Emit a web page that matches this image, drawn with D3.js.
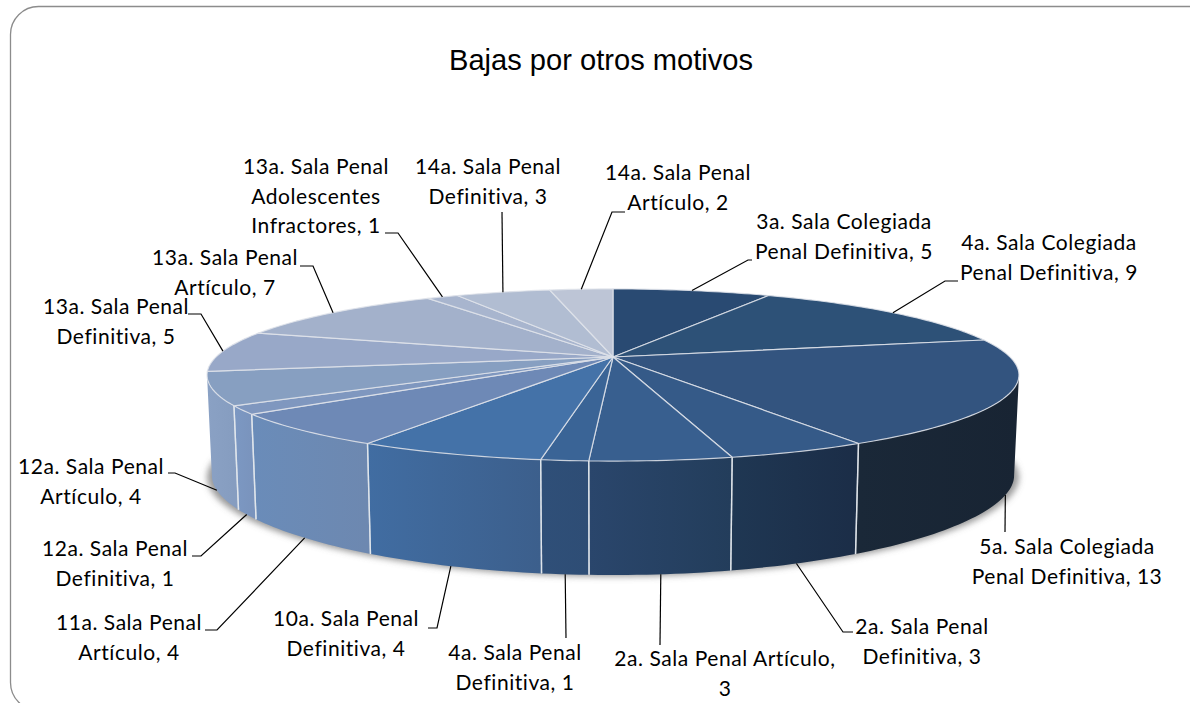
<!DOCTYPE html>
<html><head><meta charset="utf-8">
<script src="https://cdnjs.cloudflare.com/ajax/libs/d3/7.8.5/d3.min.js"></script>
<style>html,body{margin:0;padding:0;background:#fff;overflow:hidden}svg{display:block}</style>
</head><body><svg id="c" width="1190" height="703"></svg>
<script>
const title = "Bajas por otros motivos";
const labels = [
 ["3a. Sala Colegiada","Penal Definitiva, 5"],
 ["4a. Sala Colegiada","Penal Definitiva, 9"],
 ["5a. Sala Colegiada","Penal Definitiva, 13"],
 ["2a. Sala Penal","Definitiva, 3"],
 ["2a. Sala Penal Artículo,","3"],
 ["4a. Sala Penal","Definitiva, 1"],
 ["10a. Sala Penal","Definitiva, 4"],
 ["11a. Sala Penal","Artículo, 4"],
 ["12a. Sala Penal","Definitiva, 1"],
 ["12a. Sala Penal","Artículo, 4"],
 ["13a. Sala Penal","Definitiva, 5"],
 ["13a. Sala Penal","Artículo, 7"],
 ["13a. Sala Penal","Adolescentes","Infractores, 1"],
 ["14a. Sala Penal","Definitiva, 3"],
 ["14a. Sala Penal","Artículo, 2"]
];
const values = [5,9,13,3,3,1,4,4,1,4,5,7,1,3,2];
const topColors = ["#294a72","#2d5177","#33547f","#355a88","#385f8f","#3a6496","#4472a8","#6e89b6","#7f97bf","#879fc1","#98a8c8","#a3b1cb","#a8b5ce","#b1bdd2","#bdc5d6"];
const wallLeft  = ["#294a72","#2d5177","#1a2838","#1f3753","#2a466c","#2f4f78","#416da2","#6a8cb9","#7c98c3","#8aa1c4","#98a8c8","#a3b1cb","#a8b5ce","#b1bdd2","#bdc5d6"];
const wallRight = ["#294a72","#2d5177","#182433","#1b2d47","#233d5b","#2e4d75","#3c5f8c","#6d88b0","#7a94bd","#869dc0","#98a8c8","#a3b1cb","#a8b5ce","#b1bdd2","#bdc5d6"];
const labelCentre = [[844,222],[1049,243],[1067,547],[922,627],[725,659],[515,653],[346,619],[129,623],[115,549],[91,467],[116,307],[225,258],[316,167],[488,167],[678,173]];
const elbows = [
 [[748,260],[752,260]],[[945,281],[958,281]],[[1005,532]],[[843,632],[853,632]],[[660,645]],[[566,638]],
 [[437,628],[428,628]],[[217,630],[205,630]],[[201,556],[192,556]],[[175,473],[168,473]],
 [[201,314],[188,314]],[[313,266],[300,266]],[[398,233],[385,233]],[[502,212]],[[612,212],[625,212]]
];

const svg = d3.select("#c");
const defs = svg.append("defs");
const cx = 613, cy = 357, R = 397, H = 82.3, P = 0.209;
const LINE = 29.5;

const sInv = v => 1/(1-P*v);
function topPt(a){const u=Math.sin(a),v=-Math.cos(a),s=sInv(v);return [cx+R*u*s, cy+H*v*s];}
function botPt(a){const v=-Math.cos(a),t=topPt(a);return [cx+(t[0]-cx)*0.988, t[1]+100+14*v*v*(v>0?1:0)];}
function arcSamples(a0,a1,f){const n=Math.max(2,Math.ceil((a1-a0)/0.02));return d3.range(n+1).map(i=>f(a0+(a1-a0)*i/n));}

// silhouette tangents of the perspective rim
const thR = Math.acos(-P), thL = 2*Math.PI-thR;

const pie = d3.pie().sort(null).value(d=>d);
const arcs = pie(values);
const line = d3.line();

// frame: open on the right, runs off the picture
svg.append("rect").attr("x",10.5).attr("y",6.5).attr("width",1300).attr("height",704).attr("rx",28).attr("ry",28)
  .attr("fill","#fff").attr("stroke","#8c8c8c").attr("stroke-width",1.3);

// title
svg.append("text").attr("x",601).attr("y",70).attr("text-anchor","middle")
  .attr("font-family","'Liberation Sans',Arial,sans-serif").attr("font-size",29.1).attr("fill","#000").text(title);

// shadow
const flt = defs.append("filter").attr("id","sh").attr("x","-10%").attr("y","-30%").attr("width","120%").attr("height","160%");
flt.append("feGaussianBlur").attr("stdDeviation",3);
const fullBot = arcSamples(thR-0.5,thL+0.5,botPt).map(p=>[cx+(p[0]-cx)*1.012,p[1]+1.5]);
svg.append("path").attr("d",line(fullBot)+"Z").attr("fill","#6e6e6e").attr("fill-opacity",.7).attr("filter","url(#sh)");

// walls
const g = svg.append("g");
arcs.forEach((d,i)=>{
  const a0=Math.max(d.startAngle,thR),a1=Math.min(d.endAngle,thL);
  if(a1<=a0) return;
  const gid="w"+i, xs=[topPt(a0)[0],topPt(a1)[0]];
  const lg=defs.append("linearGradient").attr("id",gid).attr("gradientUnits","userSpaceOnUse")
    .attr("x1",d3.min(xs)).attr("x2",d3.max(xs)).attr("y1",0).attr("y2",0);
  lg.append("stop").attr("offset",0).attr("stop-color",wallLeft[i]);
  lg.append("stop").attr("offset",1).attr("stop-color",wallRight[i]);
  const topS=arcSamples(a0,a1,topPt), botS=arcSamples(a0,a1,botPt).reverse();
  g.append("path").attr("d",line(topS.concat(botS))+"Z").attr("fill",`url(#${gid})`);
});
arcs.forEach(d=>{
  [d.startAngle,d.endAngle].forEach(a=>{
    if(a>thR&&a<thL) g.append("path").attr("d",line([topPt(a),botPt(a)])).attr("stroke","#e4e8ee").attr("stroke-opacity",.8).attr("stroke-width",1.4).attr("fill","none");
  });
});

// top faces
arcs.forEach((d,i)=>{
  svg.append("path").attr("d",line([[cx,cy]].concat(arcSamples(d.startAngle,d.endAngle,topPt)))+"Z")
    .attr("fill",topColors[i]).attr("stroke","#dfe3ea").attr("stroke-opacity",.85).attr("stroke-width",1.2).attr("stroke-linejoin","round");
});

// leaders and labels
arcs.forEach((d,i)=>{
  const mid=(d.startAngle+d.endAngle)/2, v=-Math.cos(mid);
  const start = v>0.1 ? botPt(mid) : topPt(mid);
  svg.append("path").attr("d",line([start].concat(elbows[i]))).attr("fill","none").attr("stroke","#000").attr("stroke-width",1.2);
  const [lx,ly]=labelCentre[i];
  labels[i].forEach((t,j)=>{
    svg.append("text").attr("x",lx).attr("y",ly+j*LINE).attr("dy","0.35em").attr("text-anchor","middle")
      .attr("font-family","Lato,'Open Sans',sans-serif").attr("font-size",21).attr("letter-spacing",0.55).attr("fill","#000").text(t);
  });
});
</script></body></html>
